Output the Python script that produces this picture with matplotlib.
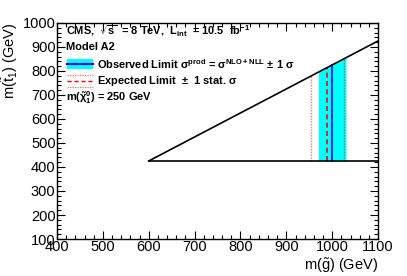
import numpy as np
import matplotlib
matplotlib.use("Agg")
import matplotlib.pyplot as plt
from matplotlib.ticker import MultipleLocator
from matplotlib.patches import Rectangle
from matplotlib.lines import Line2D

plt.rcParams["font.family"] = ["Liberation Sans", "DejaVu Sans"]
plt.rcParams["mathtext.fontset"] = "custom"
plt.rcParams["mathtext.rm"] = "Liberation Sans"
plt.rcParams["mathtext.it"] = "Liberation Sans:italic"
plt.rcParams["mathtext.bf"] = "Liberation Sans:bold"

# kinematic boundary of the allowed region
diag_x = [600, 1100]
diag_y = [425, 925]
floor_y = 425

# limits on m(gluino)
obs = 1000
obs_band = [970, 1030]
exp = 988
exp_band = [953, 1025]


def top_at(x):
    return np.interp(x, diag_x, diag_y)


fig = plt.figure(figsize=(4.07, 2.76), dpi=100)
ax = fig.add_axes([0.140, 0.134, 0.789, 0.783])

xb = np.linspace(obs_band[0], obs_band[1], 20)
ax.fill_between(xb, floor_y, top_at(xb), color="#00ffff", lw=0, zorder=1)
ax.plot([obs, obs], [floor_y, top_at(obs)], color="#0000ff", lw=1.2, zorder=3)
ax.plot([exp, exp], [floor_y, top_at(exp)], color="#ff0000", lw=1.2, ls=(0, (3, 2)), zorder=3)
for xe in exp_band:
    ax.plot([xe, xe], [floor_y, top_at(xe)], color="#ff0000", lw=1.0, ls=(0, (1, 1)),
            alpha=0.55, zorder=3)

ax.plot(diag_x, diag_y, color="black", lw=1.2, zorder=4)
ax.plot([diag_x[0], diag_x[1]], [floor_y, floor_y], color="black", lw=1.2, zorder=4)

ax.set_xlim(400, 1100)
ax.set_ylim(100, 1000)
ax.xaxis.set_major_locator(MultipleLocator(100))
ax.xaxis.set_minor_locator(MultipleLocator(20))
ax.yaxis.set_major_locator(MultipleLocator(100))
ax.yaxis.set_minor_locator(MultipleLocator(20))
ax.tick_params(which="both", direction="in", top=True, right=True, labelsize=10.5,
               width=0.8, pad=1)
ax.tick_params(which="major", length=6)
ax.tick_params(which="minor", length=3)
for s in ax.spines.values():
    s.set_linewidth(1.0)

ax.set_xlabel(r"m($\tilde{\mathrm{g}}$) (GeV)", fontsize=10.5, ha="right", x=1.0, labelpad=1)
ax.set_ylabel(r"m($\tilde{\mathrm{t}}_1$) (GeV)", fontsize=10.5, ha="right", y=1.0, labelpad=2)

fs = 7.9
fig.text(0.163, 1 - 31 / 276,
         r"CMS,  $\mathbf{\sqrt{s}}$  = 8 TeV,  L$_{\mathbf{int}}$  = 10.5  fb$^{\mathbf{-1}}$",
         fontsize=fs, fontweight="bold", va="center")
fig.text(0.163, 1 - 47 / 276, "Model A2", fontsize=fs, fontweight="bold", va="center")

# legend swatches in figure coords
sx0, sx1 = 0.165, 0.229
yo = 1 - 64 / 276
fig.patches.append(Rectangle((sx0, yo - 0.017), sx1 - sx0, 0.034, transform=fig.transFigure,
                             color="#00ffff", lw=0))
fig.lines.append(Line2D([sx0, sx1], [yo, yo], transform=fig.transFigure, color="#0000ff", lw=1.5))
fig.text(0.238, yo,
         r"Observed Limit $\mathbf{\sigma^{prod}}$ = $\mathbf{\sigma^{NLO+NLL}}$ $\mathbf{\pm}$ 1 $\mathbf{\sigma}$",
         fontsize=fs, fontweight="bold", va="center")

ye = 1 - 81 / 276
fig.lines.append(Line2D([sx0, sx1], [ye, ye], transform=fig.transFigure, color="#ff0000",
                        lw=1.0, ls=(0, (3, 2))))
for dy in (-0.022, 0.022):
    fig.lines.append(Line2D([sx0, sx1], [ye + dy, ye + dy], transform=fig.transFigure,
                            color="#ff0000", lw=0.9, ls=(0, (1, 1)), alpha=0.6))
fig.text(0.238, ye, r"Expected Limit  $\mathbf{\pm}$  1 stat. $\mathbf{\sigma}$", fontsize=fs,
         fontweight="bold", va="center")

fig.text(0.163, 1 - 98 / 276, r"m($\mathbf{\tilde{\chi}^0_1}$) = 250 GeV", fontsize=fs,
         fontweight="bold", va="center")

fig.savefig("out.png", dpi=100)
